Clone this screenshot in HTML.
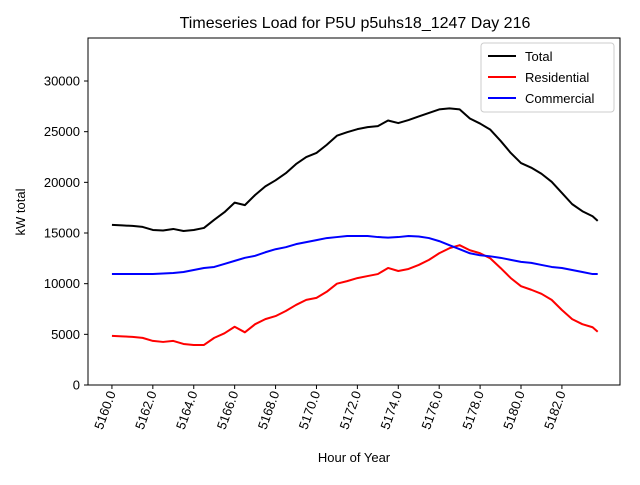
<!DOCTYPE html>
<html><head><meta charset="utf-8"><style>
body{margin:0;background:#fff;font-family:"Liberation Sans",sans-serif}
</style></head><body>
<svg id="chart" width="640" height="480" xmlns="http://www.w3.org/2000/svg" font-family="Liberation Sans, sans-serif">
<rect width="640" height="480" fill="#fff"/>
<text x="355" y="28" text-anchor="middle" font-size="16">Timeseries Load for P5U p5uhs18_1247  Day 216</text>
<g id="plot"></g>
<rect x="88" y="38" width="532" height="347" fill="none" stroke="#000" stroke-width="1"/>
<text transform="translate(25,212) rotate(-90)" text-anchor="middle" font-size="13">kW total</text>
<text x="354" y="462" text-anchor="middle" font-size="13">Hour of Year</text>
<g>
<rect x="481" y="43" width="133" height="69" rx="3" fill="#fff" stroke="#ccc"/>
<line x1="488" y1="56" x2="516" y2="56" stroke="#000" stroke-width="2"/>
<text x="525" y="61" font-size="13">Total</text>
<line x1="488" y1="77" x2="516" y2="77" stroke="#f00" stroke-width="2"/>
<text x="525" y="82" font-size="13">Residential</text>
<line x1="488" y1="98" x2="516" y2="98" stroke="#00f" stroke-width="2"/>
<text x="525" y="103" font-size="13">Commercial</text>
</g>
</svg>
<script>
const hours = [5160,5160.5,5161,5161.5,5162,5162.5,5163,5163.5,5164,5164.5,5165,5165.5,5166,5166.5,5167,5167.5,5168,5168.5,5169,5169.5,5170,5170.5,5171,5171.5,5172,5172.5,5173,5173.5,5174,5174.5,5175,5175.5,5176,5176.5,5177,5177.5,5178,5178.5,5179,5179.5,5180,5180.5,5181,5181.5,5182,5182.5,5183,5183.5,5183.75];
const residential = [4850,4800,4750,4650,4350,4250,4350,4050,3950,3950,4650,5100,5750,5200,6000,6500,6800,7300,7900,8400,8600,9200,10000,10250,10550,10750,10950,11550,11250,11450,11850,12350,13000,13500,13800,13300,13000,12500,11550,10550,9750,9400,9000,8400,7400,6500,6000,5700,5250];
const commercial = [10950,10950,10950,10950,10950,11000,11050,11150,11350,11550,11650,11950,12250,12550,12750,13100,13400,13600,13900,14100,14300,14500,14600,14700,14700,14700,14600,14550,14600,14700,14650,14500,14200,13800,13400,13000,12800,12700,12550,12350,12150,12050,11850,11650,11550,11350,11150,10950,10950];
const total = residential.map((r,i)=>r+commercial[i]);
const xTicks = [5160,5162,5164,5166,5168,5170,5172,5174,5176,5178,5180,5182];
const yTicks = [0,5000,10000,15000,20000,25000,30000];

const X0=88,X1=620,Y0=385,Y1=38;
const xMin=5158.83,xMax=5184.84,yMin=0,yMax=34245;
const sx=h=>X0+(h-xMin)/(xMax-xMin)*(X1-X0);
const sy=v=>Y0-(v-yMin)/(yMax-yMin)*(Y0-Y1);
const NS="http://www.w3.org/2000/svg";
const svg=document.getElementById('chart');
const plot=document.getElementById('plot');
function mk(tag,attrs,parent){const e=document.createElementNS(NS,tag);for(const k in attrs)e.setAttribute(k,attrs[k]);(parent||svg).appendChild(e);return e;}
xTicks.forEach(t=>{
  const x=sx(t);
  const l=mk('line',{x1:x,y1:385,x2:x,y2:389,stroke:'#000'});
  
  
  const tx=mk('text',{transform:`translate(${x+4},${393}) rotate(-70)`,'text-anchor':'end','font-size':'13'});
  tx.textContent=t.toFixed(1);
  
  
});
yTicks.forEach(t=>{
  const y=sy(t);
  const l=mk('line',{x1:84,y1:y,x2:88,y2:y,stroke:'#000'});
  
  
  const tx=mk('text',{x:80,y:y+4.5,'text-anchor':'end','font-size':'13'});
  tx.textContent=String(t);
  
  
});
function line(vals,color,name){
  const d=vals.map((v,i)=>(i?'L':'M')+sx(hours[i]).toFixed(2)+','+sy(v).toFixed(2)).join('');
  const p=mk('path',{d:d,fill:'none',stroke:color,'stroke-width':2,'stroke-linejoin':'round'},plot);
  
  
}
line(total,'#000','total-line');
line(residential,'#f00','residential-line');
line(commercial,'#00f','commercial-line');
</script>
</body></html>
